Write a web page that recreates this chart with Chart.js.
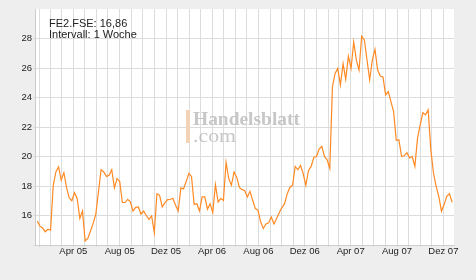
<!DOCTYPE html>
<html>
<head>
<meta charset="utf-8">
<script src="https://cdn.jsdelivr.net/npm/chart.js@4.4.1/dist/chart.umd.min.js"></script>
<style>
html,body{margin:0;padding:0;background:#eeeeee;}
canvas{display:block;}
</style>
</head>
<body>
<canvas id="c" width="476" height="280"></canvas>
<script>
// Weekly closing prices FE2.FSE, first week ending late Dec 2004
const firstWeek = '2004-12-27';
const prices = [
15.62,15.28,15.15,14.9,15.07,15.0,18.05,18.95,19.3,18.4,
18.9,17.9,17.2,17.0,17.55,17.15,15.8,16.3,14.27,14.45,
14.95,15.45,16.07,17.6,19.1,18.95,18.65,18.72,19.1,17.87,
18.5,18.3,16.88,16.88,17.1,16.92,16.3,16.55,16.58,16.1,
16.3,16.0,15.73,15.97,14.85,17.48,17.37,16.58,16.85,17.08,
17.1,17.15,16.7,16.3,17.87,17.8,18.3,18.85,18.65,16.75,
16.8,16.3,17.26,17.26,16.43,16.8,16.2,18.1,16.92,17.15,
17.03,19.6,18.5,18.05,18.95,18.6,17.9,17.75,17.7,17.26,
17.64,17.03,16.47,16.36,15.57,15.12,15.42,15.5,15.9,15.42,
15.8,16.18,16.54,16.8,17.48,17.9,18.05,19.33,19.1,19.4,
18.83,18.05,19.05,19.33,19.95,20.0,20.5,20.68,20.0,19.78,
19.2,24.73,25.63,25.97,24.85,26.3,25.23,26.8,25.97,27.77,
26.54,25.86,28.15,27.9,26.54,25.2,26.54,27.26,25.86,25.45,
25.4,24.17,24.4,23.72,23.05,21.1,21.13,20.0,20.05,20.27,
19.9,20.0,19.33,21.24,22.14,22.98,22.82,23.16,20.45,18.88,
17.98,17.3,16.29,16.74,17.3,17.48,16.9
];
const monthNames = ['Jan','Feb','Mrz','Apr','Mai','Jun','Jul','Aug','Sep','Okt','Nov','Dez'];
const labelledMonths = [3,7,11]; // Apr, Aug, Dez
const yTicks = [14,16,18,20,22,24,26,28,30];
const titleLines = ['FE2.FSE: 16,86','Intervall: 1 Woche'];

const DAY = 86400000;
const epoch = Date.UTC(2005,0,1);
function dayOf(d){ return Math.round((d - epoch)/DAY); }
const startDay = dayOf(Date.parse(firstWeek+'T00:00:00Z'));
const points = prices.map((v,i)=>({x:startDay+7*i, y:v}));

const monthTicks = [];
const monthLabel = {};
for(let y=2005;y<=2007;y++){
  for(let m=0;m<12;m++){
    const d = dayOf(Date.UTC(y,m,1));
    monthTicks.push(d);
    monthLabel[d] = labelledMonths.includes(m) ? monthNames[m]+' '+String(y).slice(2) : '';
  }
}

const bgPlugin = {
  id:'bg',
  beforeDraw(chart){
    const {ctx, chartArea:a} = chart;
    ctx.save();
    ctx.fillStyle='#ffffff';
    ctx.fillRect(a.left,a.top,a.right-a.left,a.bottom-a.top);
    ctx.restore();
  },
  beforeDatasetsDraw(chart){
    const ctx = chart.ctx;
    ctx.save();
    ctx.fillStyle='#f2d3b6';
    ctx.fillRect(186,110,4,33);
    ctx.fillStyle='rgba(185,185,185,0.8)';
    ctx.font='bold 19px "Liberation Serif", serif';
    ctx.textBaseline='alphabetic';
    let w = ctx.measureText('Handelsblatt').width;
    ctx.save(); ctx.translate(193,124.5); ctx.scale(107/w,1); ctx.fillText('Handelsblatt',0,0); ctx.restore();
    ctx.font='18px "Liberation Serif", serif';
    w = ctx.measureText('.com').width;
    ctx.save(); ctx.translate(193,142); ctx.scale(43/w,1); ctx.fillText('.com',0,0); ctx.restore();
    ctx.restore();
  },
  afterDraw(chart){
    const ctx = chart.ctx;
    ctx.save();
    ctx.fillStyle='#222222';
    ctx.font='11px "Liberation Sans", Arial, sans-serif';
    ctx.textBaseline='alphabetic';
    ctx.fillText(titleLines[0],49,27);
    ctx.fillText(titleLines[1],49,37.5);
    ctx.restore();
  }
};

new Chart(document.getElementById('c'),{
  type:'line',
  data:{datasets:[{
    data:points,
    borderColor:'#ff8a24',
    borderWidth:1.2,
    pointRadius:0,
    tension:0,
    fill:false
  }]},
  options:{
    responsive:false,
    animation:false,
    devicePixelRatio:1,
    layout:{padding:{top:9,right:22,left:0,bottom:0}},
    plugins:{legend:{display:false},tooltip:{enabled:false}},
    scales:{
      x:{
        type:'linear',
        min:-11, max:1092,
        afterBuildTicks(scale){ scale.ticks = monthTicks.map(v=>({value:v})); },
        afterFit(scale){ scale.height = 35; },
        grid:{color:'#dcdcdc',lineWidth:1,tickLength:2,drawTicks:true},
        border:{color:'#cccccc',width:1},
        ticks:{
          autoSkip:false,maxRotation:0,minRotation:0,padding:-1,
          color:'#222222',
          font:{family:'"Liberation Sans", Arial, sans-serif',size:9.5},
          callback(v){ return monthLabel[v] ?? ''; }
        }
      },
      y:{
        min:14,max:30,
        afterBuildTicks(scale){ scale.ticks = yTicks.map(v=>({value:v})); },
        afterFit(scale){ scale.width = 35; },
        grid:{color:(c)=> (c.tick && c.tick.value===30) ? 'rgba(0,0,0,0)' : '#dcdcdc',lineWidth:1,tickLength:2},
        border:{color:'#cccccc',width:1},
        ticks:{
          padding:1,color:'#222222',
          font:{family:'"Liberation Sans", Arial, sans-serif',size:9.5},
          callback(v){ return (v===14||v===30)?'':String(v); }
        }
      }
    }
  },
  plugins:[bgPlugin]
});
</script>
</body>
</html>
